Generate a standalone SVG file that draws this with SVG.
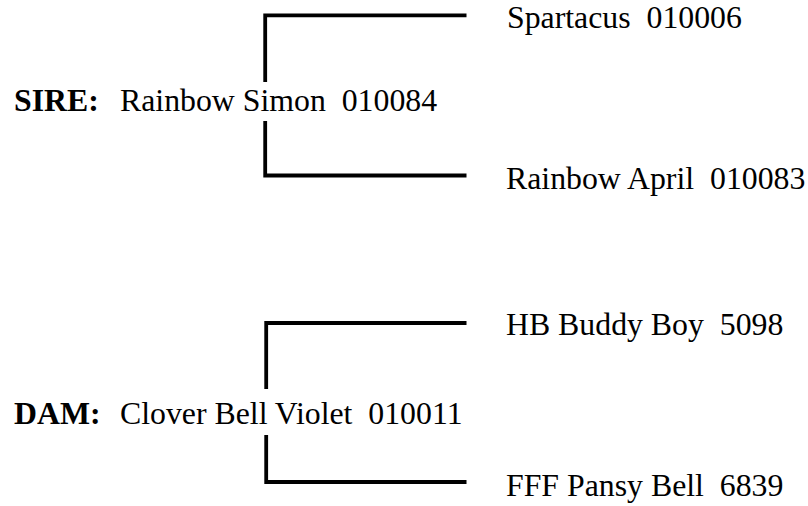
<svg xmlns="http://www.w3.org/2000/svg" width="808" height="506" viewBox="0 0 808 506">
<style>
text{font-family:"Liberation Serif","Times New Roman",serif;font-size:31.8px;fill:#000;white-space:pre}
.b{font-weight:bold}
.ln{fill:none;stroke:#000;stroke-width:3.8;stroke-linecap:butt}
</style>
<rect width="808" height="506" fill="#fff"/>
<g id="connectors">
<path class="ln" d="M466.5,15.3 H265.2 V82"/>
<path class="ln" d="M265.2,121 V175.5 H466.5"/>
<path class="ln" d="M466.5,323 H266.2 V389"/>
<path class="ln" d="M266.2,435 V482 H466.5"/>
</g>
<g id="sire"><text x="14" y="111" class="b">SIRE:</text><text x="120" y="111" xml:space="preserve">Rainbow Simon  010084</text></g>
<g id="sire-sire"><text x="507" y="28" xml:space="preserve">Spartacus  010006</text></g>
<g id="sire-dam"><text x="506" y="189" xml:space="preserve">Rainbow April  010083</text></g>
<g id="dam"><text x="14" y="424" class="b">DAM:</text><text x="120" y="424" xml:space="preserve">Clover Bell Violet  010011</text></g>
<g id="dam-sire"><text x="506" y="335" xml:space="preserve">HB Buddy Boy  5098</text></g>
<g id="dam-dam"><text x="506" y="496" xml:space="preserve">FFF Pansy Bell  6839</text></g>
</svg>
